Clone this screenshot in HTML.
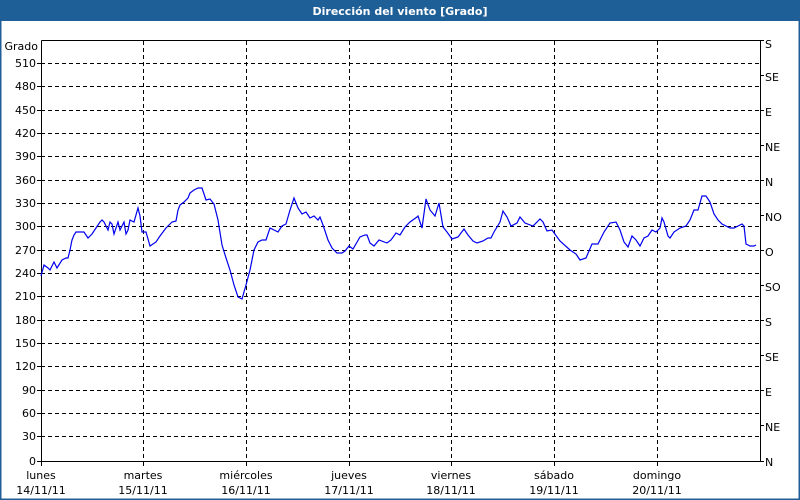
<!DOCTYPE html>
<html><head><meta charset="utf-8"><style>
html,body{margin:0;padding:0;background:#fff}
svg{display:block}
text{font-family:"DejaVu Sans","Liberation Sans",sans-serif;font-size:11px;fill:#000}
</style></head><body>
<svg width="800" height="500" viewBox="0 0 800 500" xmlns="http://www.w3.org/2000/svg">
<rect x="0" y="0" width="800" height="500" fill="#fff"/>
<rect x="0" y="0" width="800" height="21" fill="#1f5f97"/>
<rect x="0.5" y="0.5" width="799" height="499" fill="none" stroke="#1f5f97" stroke-width="2"/>
<text x="400" y="15" text-anchor="middle" style="fill:#fff;font-weight:bold;font-size:11px">Dirección del viento [Grado]</text>
<g stroke="#000" stroke-dasharray="4,3" stroke-width="1">
<line x1="41" x2="760" y1="63.5" y2="63.5"/><line x1="41" x2="760" y1="86.5" y2="86.5"/><line x1="41" x2="760" y1="110.5" y2="110.5"/><line x1="41" x2="760" y1="133.5" y2="133.5"/><line x1="41" x2="760" y1="156.5" y2="156.5"/><line x1="41" x2="760" y1="180.5" y2="180.5"/><line x1="41" x2="760" y1="203.5" y2="203.5"/><line x1="41" x2="760" y1="226.5" y2="226.5"/><line x1="41" x2="760" y1="250.5" y2="250.5"/><line x1="41" x2="760" y1="273.5" y2="273.5"/><line x1="41" x2="760" y1="296.5" y2="296.5"/><line x1="41" x2="760" y1="320.5" y2="320.5"/><line x1="41" x2="760" y1="343.5" y2="343.5"/><line x1="41" x2="760" y1="366.5" y2="366.5"/><line x1="41" x2="760" y1="390.5" y2="390.5"/><line x1="41" x2="760" y1="413.5" y2="413.5"/><line x1="41" x2="760" y1="436.5" y2="436.5"/>
<line x1="143.5" x2="143.5" y1="41" y2="461"/><line x1="246.5" x2="246.5" y1="41" y2="461"/><line x1="349.5" x2="349.5" y1="41" y2="461"/><line x1="451.5" x2="451.5" y1="41" y2="461"/><line x1="554.5" x2="554.5" y1="41" y2="461"/><line x1="657.5" x2="657.5" y1="41" y2="461"/>
</g>
<g stroke="#000" stroke-width="1" fill="none">
<path d="M41.5 40.5 H760.5 V461.5 M41.5 40.5 V461.5 H760.5"/>
<path d="M37 63.5h4M37 86.5h4M37 110.5h4M37 133.5h4M37 156.5h4M37 180.5h4M37 203.5h4M37 226.5h4M37 250.5h4M37 273.5h4M37 296.5h4M37 320.5h4M37 343.5h4M37 366.5h4M37 390.5h4M37 413.5h4M37 436.5h4M37 461.5h4"/>
<path d="M760 40.5h4M760 75.5h4M760 110.5h4M760 145.5h4M760 180.5h4M760 215.5h4M760 250.5h4M760 285.5h4M760 320.5h4M760 355.5h4M760 390.5h4M760 425.5h4M760 461.5h4"/>
<path d="M41.5 461v5M143.5 461v5M246.5 461v5M349.5 461v5M451.5 461v5M554.5 461v5M657.5 461v5"/>
</g>
<g text-anchor="end">
<text x="38" y="50">Grado</text>
<text x="36" y="67">510</text><text x="36" y="90">480</text><text x="36" y="114">450</text><text x="36" y="137">420</text><text x="36" y="160">390</text><text x="36" y="184">360</text><text x="36" y="207">330</text><text x="36" y="230">300</text><text x="36" y="254">270</text><text x="36" y="277">240</text><text x="36" y="300">210</text><text x="36" y="324">180</text><text x="36" y="347">150</text><text x="36" y="370">120</text><text x="36" y="394">90</text><text x="36" y="417">60</text><text x="36" y="440">30</text><text x="36" y="465">0</text>
</g>
<g>
<text x="765" y="48">S</text><text x="765" y="81">SE</text><text x="765" y="116">E</text><text x="765" y="151">NE</text><text x="765" y="186">N</text><text x="765" y="221">NO</text><text x="765" y="256">O</text><text x="765" y="291">SO</text><text x="765" y="326">S</text><text x="765" y="361">SE</text><text x="765" y="396">E</text><text x="765" y="431">NE</text><text x="765" y="466">N</text>
</g>
<g text-anchor="middle">
<text x="41" y="479">lunes</text><text x="41" y="494">14/11/11</text>
<text x="143" y="479">martes</text><text x="143" y="494">15/11/11</text>
<text x="246" y="479">miércoles</text><text x="246" y="494">16/11/11</text>
<text x="349" y="479">jueves</text><text x="349" y="494">17/11/11</text>
<text x="451" y="479">viernes</text><text x="451" y="494">18/11/11</text>
<text x="554" y="479">sábado</text><text x="554" y="494">19/11/11</text>
<text x="657" y="479">domingo</text><text x="657" y="494">20/11/11</text>
</g>
<polyline fill="none" stroke="#0000ee" stroke-width="1.2" points="41,276 44,265 48,268 50,270 54,262 57,268 62,260 66,258 68,258 70,250 72,240 74,235 76,232 80,232 84,232 88,238 92,234 96,228 100,222 102,220 104,222 108,230 110,222 112,224 114,234 118,222 120,230 124,222 126,234 128,230 130,220 134,222 138,208 140,216 142,232 146,232 150,246 156,242 160,236 166,228 172,222 176,221 178,210 180,205 184,202 188,198 190,193 194,190 198,188 202,188 206,200 210,199 214,204 218,220 222,245 226,258 230,270 234,285 238,297 242,299 246,285 250,270 254,250 258,242 262,240 266,240 270,228 274,230 278,232 282,226 286,224 290,210 294,198 298,208 302,214 306,212 310,218 314,216 318,220 320,217 323,225 328,240 332,248 337,253 342,253 345,251 349,246 353,249 360,237 365,235 367,235 370,243 374,246 379,240 387,243 391,240 396,233 400,235 405,227 410,222 417,217 418,216 422,228 426,199 430,210 435,216 439,203 443,227 447,232 452,239 458,237 464,229 468,235 473,241 477,243 483,241 488,238 491,238 494,232 500,222 503,211 507,217 511,226 517,223 520,217 525,223 533,226 540,219 543,222 547,231 552,230 560,241 570,250 576,254 580,260 586,258 592,244 598,244 604,232 610,223 616,222 620,230 624,242 628,247 632,236 636,240 640,246 644,238 648,236 652,230 656,232 660,228 662,218 664,222 668,236 670,238 674,232 680,228 686,226 690,220 694,210 698,210 702,196 706,196 710,202 714,214 718,220 722,224 726,226 730,228 734,228 738,226 742,224 744,226 746,244 750,246 754,246 756,245"/>
</svg>
</body></html>
